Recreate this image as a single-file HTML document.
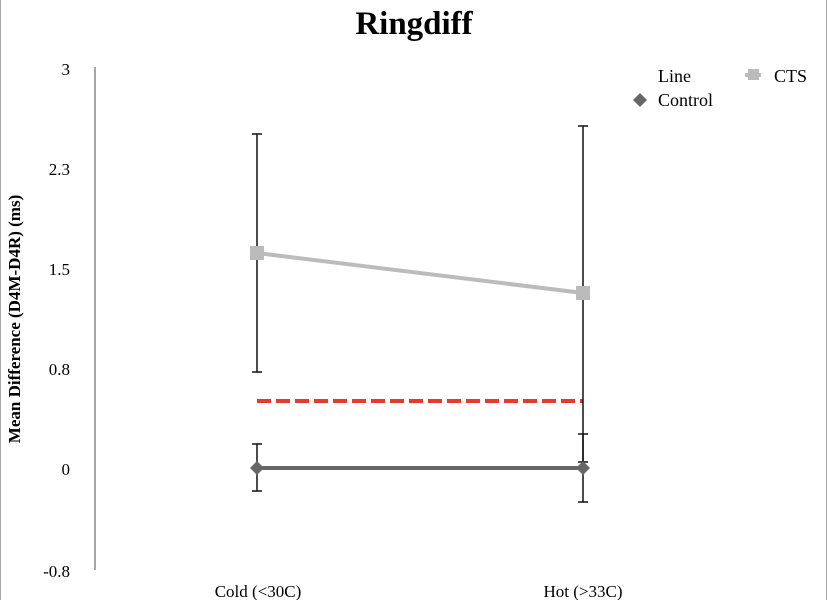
<!DOCTYPE html>
<html><head><style>body{margin:0;background:#fff}svg{display:block}</style></head><body>
<svg width="828" height="600" xmlns="http://www.w3.org/2000/svg" font-family="Liberation Serif, serif">
<rect width="828" height="600" fill="#fff"/>
<line x1="0.5" y1="0" x2="0.5" y2="600" stroke="#aaa"/>
<line x1="826.5" y1="0" x2="826.5" y2="600" stroke="#aaa"/>
<text x="414" y="34" text-anchor="middle" font-size="33" font-weight="bold">Ringdiff</text>
<line x1="95" y1="67" x2="95" y2="570" stroke="#888" stroke-width="1.5"/>
<g font-size="17" text-anchor="end">
<text x="70" y="75">3</text>
<text x="70" y="175">2.3</text>
<text x="70" y="275">1.5</text>
<text x="70" y="375">0.8</text>
<text x="70" y="475">0</text>
<text x="70" y="577">-0.8</text>
</g>
<text transform="translate(20,319) rotate(-90)" text-anchor="middle" font-size="17" font-weight="bold">Mean Difference (D4M-D4R) (ms)</text>
<g font-size="17" text-anchor="middle">
<text x="258" y="597">Cold (&lt;30C)</text>
<text x="583" y="597">Hot (&gt;33C)</text>
</g>
<line x1="257" y1="401" x2="583" y2="401" stroke="#e8392a" stroke-width="4" stroke-dasharray="14,5"/>
<line x1="257" y1="253" x2="583" y2="293" stroke="#bbb" stroke-width="4"/>
<line x1="257" y1="468" x2="583" y2="468" stroke="#666" stroke-width="4"/>
<g stroke="#111" stroke-width="1.5">
<line x1="257" y1="134" x2="257" y2="372"/><line x1="252" y1="134" x2="262" y2="134"/><line x1="252" y1="372" x2="262" y2="372"/>
<line x1="583" y1="126" x2="583" y2="462"/><line x1="578" y1="126" x2="588" y2="126"/><line x1="578" y1="462" x2="588" y2="462"/>
<line x1="257" y1="444" x2="257" y2="491"/><line x1="252" y1="444" x2="262" y2="444"/><line x1="252" y1="491" x2="262" y2="491"/>
<line x1="583" y1="434" x2="583" y2="502"/><line x1="578" y1="434" x2="588" y2="434"/><line x1="578" y1="502" x2="588" y2="502"/>
</g>
<rect x="250" y="246" width="14" height="14" fill="#bbb"/>
<rect x="576" y="286" width="14" height="14" fill="#bbb"/>
<polygon points="257,461 264,468 257,475 250,468" fill="#666"/>
<polygon points="583,461 590,468 583,475 576,468" fill="#666"/>
<polygon points="640,93 647,100 640,107 633,100" fill="#666"/>
<line x1="745" y1="75" x2="761" y2="75" stroke="#bbb" stroke-width="4"/>
<rect x="748" y="69" width="11" height="11" fill="#bbb"/>
<g font-size="18">
<text x="658" y="82">Line</text>
<text x="658" y="106">Control</text>
<text x="774" y="82">CTS</text>
</g>
</svg>
</body></html>
